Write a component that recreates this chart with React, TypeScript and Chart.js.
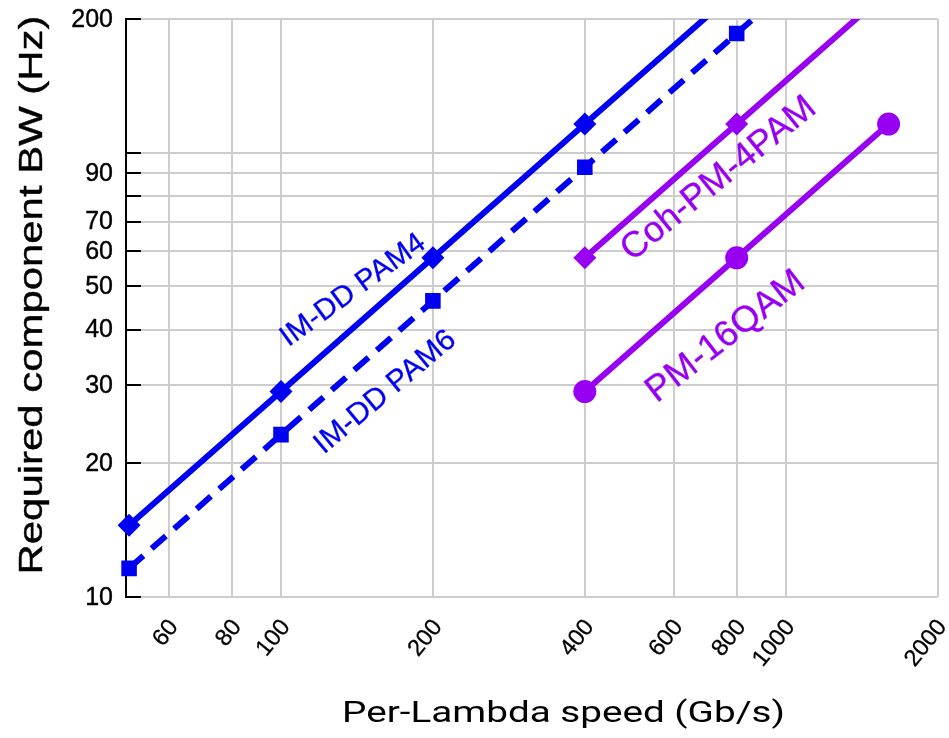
import React, { useEffect, useRef } from 'react';
import { Chart, registerables } from 'chart.js';

Chart.register(...registerables);

// ---- data ----
const pam4Speed = [50, 100, 200, 400, 800];
const pam4BW = [14.5, 29, 58, 116, 232];
const pam6Speed = [50, 100, 200, 400, 800, 1600];
const pam6BW = [11.6, 23.2, 46.4, 92.8, 185.6, 371];
const cohSpeed = [400, 800, 1600];
const cohBW = [58, 116, 232];
const qamSpeed = [400, 800, 1600];
const qamBW = [29, 58, 116];

const xGridTicks = [60, 80, 100, 200, 400, 600, 800, 1000, 2000];
const xTickLabels = [60, 80, 100, 200, 400, 600, 800, 1000, 2000];
const yGridTicks = [10, 20, 30, 40, 50, 60, 70, 80, 90, 100, 200];
const yTickLabels = [10, 20, 30, 40, 50, 60, 70, 90, 200];

const xTitle = 'Per-Lambda speed (Gb/s)';
const yTitle = 'Required component BW (Hz)';

const BLUE = '#0000f2';
const PURPLE = '#9800f2';
const GRID = '#cdcdcd';

// series captions, anchored in data coordinates
const captions = [
  { text: 'IM-DD PAM4', x: 139, y: 49, angle: 36, size: 29.5, color: BLUE },
  { text: 'IM-DD PAM6', x: 161, y: 28.9, angle: 40, size: 30, color: BLUE },
  { text: 'Coh-PM-4PAM', x: 737, y: 87.3, angle: 39, size: 36, color: PURPLE },
  { text: 'PM-16QAM', x: 761, y: 38.5, angle: 38, size: 36.5, color: PURPLE },
];

const toPoints = (xs: number[], ys: number[]) => xs.map((x, i) => ({ x, y: ys[i] }));

const SANS = '"Liberation Sans", Arial, sans-serif';

const drawText = (ctx: any, text: string, x: number, y: number, weight = 0.5) => {
  ctx.fillText(text, x, y);
  if (weight > 0) {
    ctx.lineWidth = weight;
    ctx.strokeStyle = ctx.fillStyle;
    ctx.strokeText(text, x, y);
  }
};

const overlay = {
  id: 'overlay',
  beforeDatasetsDraw(chart: any) {
    const { ctx, chartArea, scales } = chart;
    ctx.save();
    ctx.strokeStyle = '#000';
    ctx.lineWidth = 2;
    yGridTicks.forEach((v) => {
      const py = Math.round(scales.y.getPixelForValue(v));
      ctx.beginPath();
      ctx.moveTo(chartArea.left, py);
      ctx.lineTo(chartArea.left + 15, py);
      ctx.stroke();
    });
    ctx.restore();
  },
  afterDraw(chart: any) {
    const { ctx, chartArea, scales } = chart;
    const xs = scales.x;
    const ys = scales.y;

    // y tick labels
    ctx.save();
    ctx.fillStyle = '#000';
    ctx.font = `25px ${SANS}`;
    ctx.textAlign = 'right';
    ctx.textBaseline = 'middle';
    yTickLabels.forEach((v) => {
      const py = ys.getPixelForValue(v);
      drawText(ctx, String(v), chartArea.left - 13, py + 1, 0.4);
    });
    ctx.restore();

    // x tick labels
    ctx.save();
    ctx.fillStyle = '#000';
    ctx.font = `23.5px ${SANS}`;
    ctx.textAlign = 'right';
    ctx.textBaseline = 'middle';
    xTickLabels.forEach((v) => {
      const px = xs.getPixelForValue(v);
      ctx.save();
      ctx.translate(px + 5, chartArea.bottom + 26);
      ctx.rotate((-51 * Math.PI) / 180);
      drawText(ctx, String(v), 0, 0, 0.3);
      ctx.restore();
    });
    ctx.restore();

    // y title
    ctx.save();
    ctx.fillStyle = '#000';
    ctx.font = `33px ${SANS}`;
    ctx.textAlign = 'center';
    ctx.textBaseline = 'alphabetic';
    ctx.translate(42, 295);
    ctx.rotate(-Math.PI / 2);
    ctx.scale(1.27, 1);
    drawText(ctx, yTitle, 0, 0, 0.4);
    ctx.restore();

    // x title
    ctx.save();
    ctx.fillStyle = '#000';
    ctx.font = '29px Roboto, sans-serif';
    ctx.textAlign = 'center';
    ctx.textBaseline = 'alphabetic';
    const w = ctx.measureText(xTitle).width;
    ctx.translate(563.5, 722);
    ctx.scale(443 / w, 1);
    drawText(ctx, xTitle, 0, 0, 0);
    ctx.restore();

    // series captions
    captions.forEach((c) => {
      const px = xs.getPixelForValue(c.x);
      const py = ys.getPixelForValue(c.y);
      ctx.save();
      ctx.fillStyle = c.color;
      ctx.font = `${c.size}px ${SANS}`;
      ctx.textAlign = 'center';
      ctx.textBaseline = 'middle';
      ctx.translate(px, py);
      ctx.rotate((-c.angle * Math.PI) / 180);
      drawText(ctx, c.text, 0, 0, 0.3);
      ctx.restore();
    });
  },
};

export default function App() {
  const ref = useRef<HTMLCanvasElement | null>(null);

  useEffect(() => {
    if (!ref.current) return;
    const clip = { left: 20, top: 0, right: 0, bottom: 20 };
    const common = { borderWidth: 6, pointBorderWidth: 0, clip };
    const chart = new Chart(ref.current, {
      type: 'line',
      data: {
        datasets: [
          {
            label: 'IM-DD PAM4',
            data: toPoints(pam4Speed, pam4BW),
            borderColor: BLUE,
            backgroundColor: BLUE,
            pointStyle: 'rectRot',
            pointRadius: 11.5,
            ...common,
          },
          {
            label: 'IM-DD PAM6',
            data: toPoints(pam6Speed, pam6BW),
            borderColor: BLUE,
            backgroundColor: BLUE,
            borderDash: [19, 11],
            pointStyle: 'rect',
            pointRadius: 11,
            ...common,
          },
          {
            label: 'Coh-PM-4PAM',
            data: toPoints(cohSpeed, cohBW),
            borderColor: PURPLE,
            backgroundColor: PURPLE,
            pointStyle: 'rectRot',
            pointRadius: 11.5,
            ...common,
          },
          {
            label: 'PM-16QAM',
            data: toPoints(qamSpeed, qamBW),
            borderColor: PURPLE,
            backgroundColor: PURPLE,
            pointStyle: 'circle',
            pointRadius: 11.5,
            ...common,
          },
        ],
      },
      options: {
        animation: false,
        responsive: false,
        devicePixelRatio: 1,
        layout: { padding: { left: 126, right: 11, top: 19, bottom: 141 } },
        plugins: { legend: { display: false }, tooltip: { enabled: false } },
        scales: {
          x: {
            type: 'logarithmic',
            min: 49.3,
            max: 2000,
            afterBuildTicks: (s: any) => {
              s.ticks = xGridTicks.map((v) => ({ value: v }));
            },
            afterFit: (s: any) => {
              s.height = 0;
            },
            ticks: { display: false },
            grid: { color: GRID, lineWidth: 2, drawTicks: false },
            border: { display: false },
          },
          y: {
            type: 'logarithmic',
            min: 10,
            max: 200,
            afterBuildTicks: (s: any) => {
              s.ticks = yGridTicks.map((v) => ({ value: v }));
            },
            afterFit: (s: any) => {
              s.width = 0;
            },
            ticks: { display: false },
            grid: { color: GRID, lineWidth: 2, drawTicks: false },
            border: { display: true, color: '#000', width: 2 },
          },
        },
      },
      plugins: [overlay],
    } as any);
    return () => chart.destroy();
  }, []);

  return (
    <div style={{ position: 'absolute', left: 0, top: 0, width: 949, height: 738, background: '#fff' }}>
      <canvas ref={ref} width={949} height={738} style={{ display: 'block' }} />
    </div>
  );
}
